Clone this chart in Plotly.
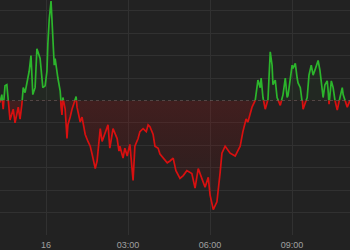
import pandas as pd
import plotly.graph_objects as go

# minutes after 00:00 on the 16th, and change vs previous close
minutes = [
    -101, -97, -94, -90, -86, -83, -79, -72, -68, -61,
    -57, -53, -50, -46, -42, -37, -33, -31, -29, -24,
    -20, -13, -9, -7, -2, 2, 4, 7, 11, 13,
    15, 18, 20, 24, 26, 31, 33, 35, 37, 42,
    46, 48, 53, 57, 64, 66, 68, 75, 79, 86,
    92, 97, 101, 108, 112, 119, 123, 130, 136, 140,
    147, 156, 160, 162, 169, 173, 178, 184, 191, 195,
    202, 206, 213, 220, 224, 228, 235, 239, 246, 250,
    257, 266, 272, 279, 285, 294, 301, 309, 320, 327,
    334, 342, 349, 356, 360, 367, 375, 382, 386, 393,
    404, 415, 421, 426, 432, 439, 443, 448, 452, 459,
    463, 465, 470, 472, 476, 481, 487, 492, 496, 498,
    503, 507, 514, 520, 525, 529, 531, 536, 540, 542,
    547, 551, 553, 558, 562, 564, 573, 577, 582, 586,
    590, 595, 597, 601, 606, 608, 612, 617, 619, 621,
    626, 630, 634, 639, 645, 650, 652, 656, 661, 667,
]
change = [
    -0.09, 0.26, -0.39, 0.65, 0.70, 0.13, -0.87, -0.39, -1.00, -0.30,
    -0.83, -0.17, 0.57, 0.35, 0.78, 1.30, 2.00, 0.87, 0.26, 0.57,
    2.30, 1.87, 1.13, 0.57, 0.65, 1.30, 2.52, 3.61, 4.43, 3.61,
    2.30, 1.57, 1.87, 1.13, 1.00, 0.43, -0.30, -0.65, 0.13, -0.39,
    -1.70, -1.09, -0.74, -0.39, 0.04, 0.17, -0.30, -0.96, -0.74, -1.52,
    -1.83, -2.04, -2.39, -3.04, -2.70, -1.26, -1.83, -1.39, -1.09, -2.13,
    -1.26, -1.70, -2.26, -2.04, -2.57, -2.13, -2.48, -1.96, -3.57, -2.04,
    -1.70, -1.39, -1.26, -1.39, -1.09, -1.17, -1.52, -2.04, -2.13, -2.39,
    -2.57, -2.78, -2.70, -2.57, -3.13, -3.48, -3.35, -3.13, -3.26, -3.91,
    -3.04, -3.48, -3.87, -3.43, -4.22, -4.87, -4.52, -3.22, -2.35, -2.04,
    -2.35, -2.48, -2.26, -2.04, -1.39, -0.83, -0.96, -0.65, -0.30, 0.00,
    0.70, 0.91, 0.57, 1.00, 0.13, -0.39, 0.04, 2.17, 1.57, 0.70,
    0.91, 0.13, -0.22, 0.26, 1.00, 0.13, 0.22, 1.00, 1.57, 1.43,
    1.65, 1.00, 0.78, 0.57, 0.13, -0.39, 0.13, 1.13, 1.57, 1.13,
    1.35, 1.65, 1.78, 1.35, 0.57, 0.13, 0.70, 0.87, 0.43, -0.17,
    0.87, 0.57, 0.00, -0.43, 0.13, 0.57, 0.26, 0.04, -0.30, 0.00,
]
tick_hours = [0, 3, 6, 9]
tick_labels = ["16", "03:00", "06:00", "09:00"]

base = pd.Timestamp("2024-05-16 00:00")
t = [base + pd.Timedelta(minutes=m) for m in minutes]
tickvals = [base + pd.Timedelta(hours=h) for h in tick_hours]

bg = "#222222"
grid = "#313131"
green = "#2cb52c"
red = "#d81010"

fig = go.Figure()
# upper panel: above the previous close (green)
fig.add_trace(go.Scatter(
    x=t, y=change, mode="lines", line=dict(color=green, width=1.7),
    fill="tozeroy", fillcolor="rgba(40,160,40,0.05)",
    xaxis="x", yaxis="y", hoverinfo="skip", showlegend=False,
))
# lower panel: below the previous close (red)
fig.add_trace(go.Scatter(
    x=t, y=change, mode="lines", line=dict(color=red, width=1.7),
    fill="tozeroy",
    fillgradient=dict(type="vertical", start=-5, stop=0,
                      colorscale=[[0, "rgba(150,0,0,0.03)"], [1, "rgba(160,20,20,0.25)"]]),
    xaxis="x", yaxis="y2", hoverinfo="skip", showlegend=False,
))

split = 138 / 241
fig.update_layout(
    width=350, height=250,
    margin=dict(l=0, r=0, t=0, b=9),
    paper_bgcolor=bg, plot_bgcolor=bg,
    xaxis=dict(
        anchor="y2", type="date",
        range=[base + pd.Timedelta(minutes=-101), base + pd.Timedelta(minutes=667)],
        tickvals=tickvals, ticktext=tick_labels,
        showgrid=True, gridcolor=grid, gridwidth=1,
        zeroline=False, showline=False, ticks="",
        ticklabelstandoff=3,
        tickfont=dict(family="Liberation Sans, Arial, sans-serif", size=9, color="#a0a0a0"),
    ),
    yaxis=dict(
        domain=[split, 1], range=[0, 103 / 23], dtick=1,
        showgrid=True, gridcolor=grid, zeroline=False,
        showticklabels=False, ticks="",
    ),
    yaxis2=dict(
        domain=[0, split], range=[-6, 0], dtick=1,
        showgrid=True, gridcolor=grid, zeroline=False,
        showticklabels=False, ticks="",
    ),
    shapes=[dict(
        type="line", xref="paper", x0=0, x1=1, yref="y2", y0=0, y1=0,
        line=dict(color="rgba(170,150,150,0.7)", width=1, dash="dot"),
    )],
)

fig.write_html("out.html")
